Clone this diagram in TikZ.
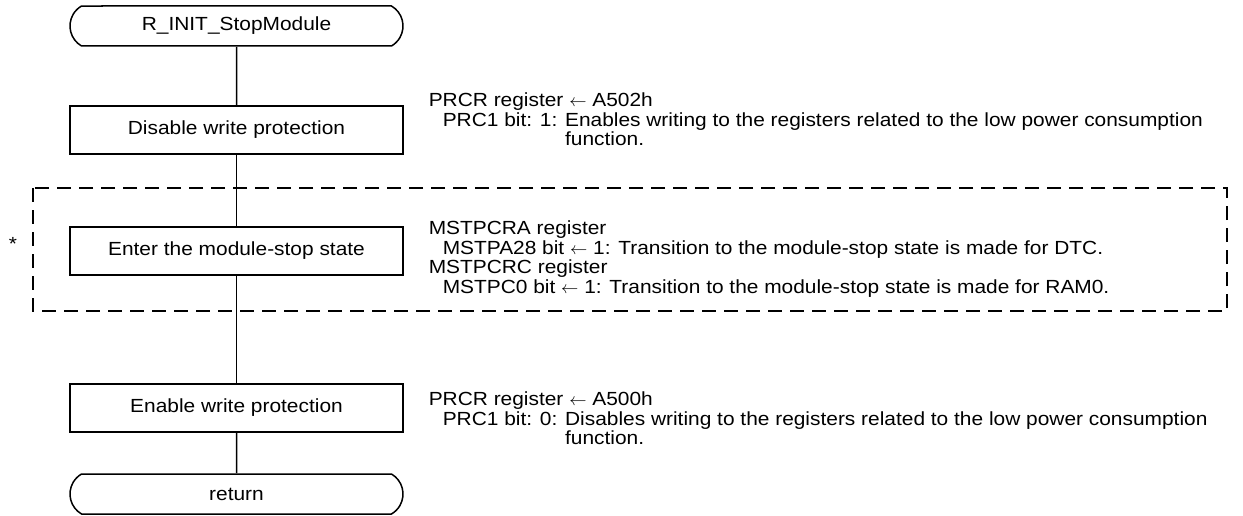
\documentclass[tikz,border=0pt]{standalone}
\usepackage{fontspec}
\setmainfont[FakeStretch=1.1]{Liberation Sans}
\usetikzlibrary{shapes.misc}
\tikzset{every picture/.style = {x=1pt, y=-1pt, line width=1.5pt}}
\tikzset{term/.style = {draw, shape=rounded rectangle, rounded rectangle arc length=120, minimum width=333pt, minimum height=40pt, inner sep=0pt, font=\fontsize{19}{19.5}\selectfont}}
\tikzset{proc/.style = {draw, shape=rectangle, minimum width=333pt, minimum height=48pt, inner sep=0pt, font=\fontsize{19}{19.5}\selectfont}}
\tikzset{desc/.style = {anchor=north west, align=left, inner sep=0pt, font=\fontsize{19}{19.5}\selectfont}}
\tikzset{group/.style = {dash pattern=on 14pt off 8pt}}

\begin{document}
\begin{tikzpicture}
  \useasboundingbox (0, 0) rectangle (1243, 516);
  % flow
  \node[term] (start) at (236.5, 26) {R\_INIT\_StopModule};
  \node[proc] (dis) at (236.5, 130) {Disable write protection};
  \node[proc] (ent) at (236.5, 251) {Enter the module-stop state};
  \node[proc] (ena) at (236.5, 408) {Enable write protection};
  \node[term] (ret) at (236.5, 494) {return};
  \draw (start) -- (dis);
  \draw (dis) -- (ent);
  \draw (ent) -- (ena);
  \draw (ena) -- (ret);
  % dashed group
  \draw[group] (33, 188) rectangle (1227, 311);
  \node[font=\fontsize{19}{19.5}\selectfont] (star) at (13, 244) {*};
  % descriptions
  \node[desc] (d1) at (428, 92) {PRCR register $\leftarrow$ A502h\\
    \hspace*{14pt}PRC1 bit: 1: Enables writing to the registers related to the low power consumption\\
    \hspace*{14pt}\phantom{PRC1 bit: 1: }function.};
  \node[desc] (d2) at (428, 220) {MSTPCRA register\\
    \hspace*{14pt}MSTPA28 bit $\leftarrow$ 1: Transition to the module-stop state is made for DTC.\\
    MSTPCRC register\\
    \hspace*{14pt}MSTPC0 bit $\leftarrow$ 1: Transition to the module-stop state is made for RAM0.};
  \node[desc] (d3) at (428, 391) {PRCR register $\leftarrow$ A500h\\
    \hspace*{14pt}PRC1 bit: 0: Disables writing to the registers related to the low power consumption\\
    \hspace*{14pt}\phantom{PRC1 bit: 0: }function.};
\end{tikzpicture}
\end{document}
